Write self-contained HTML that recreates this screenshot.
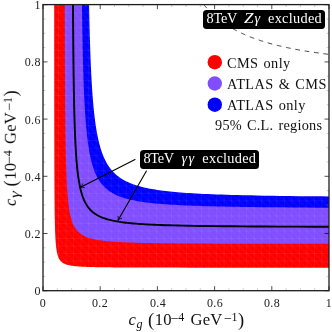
<!DOCTYPE html>
<html><head><meta charset="utf-8"><title>plot</title>
<style>
html,body{margin:0;padding:0;background:#fff;}
body{width:332px;height:332px;overflow:hidden;position:relative;font-family:"Liberation Serif",serif;color:#111;}
svg{position:absolute;left:0;top:0;}
.tl,.lg,.bx,.ax{will-change:transform;}
.tl{position:absolute;font-size:12px;line-height:14px;color:#222;white-space:nowrap;letter-spacing:0.4px;}
.xt{top:295.5px;width:30px;text-align:center;}
.yt{left:0;width:40.9px;text-align:right;}
.lg{position:absolute;left:226.6px;font-size:14.3px;line-height:16px;white-space:nowrap;letter-spacing:0.4px;word-spacing:1.2px;color:#111;}
.bx{position:absolute;background:#000;color:#fff;border-radius:3.5px;font-size:14.3px;line-height:17.4px;height:18.7px;white-space:nowrap;letter-spacing:0.3px;}
.bx span{position:absolute;top:0;}
.bx .a{letter-spacing:-0.3px;}
.bx .g{letter-spacing:1.3px;font-style:italic;}
.ax{position:absolute;left:0;top:0;width:0;height:0;color:#111;}
.ax span{position:absolute;white-space:nowrap;line-height:20px;}
.ax .m{font-size:16.6px;top:-14.6px;letter-spacing:0.15px;}
.ax .it{font-style:italic;}
.ax .s{font-size:12px;top:-18.3px;letter-spacing:0.3px;}
.ax .s.it{top:-11.2px;}
.ax .mn{font-size:14px;top:-16.3px;}
.ax .p{font-size:18.5px;top:-15.4px;}
</style></head><body>
<svg width="332" height="332" viewBox="0 0 332 332">
<defs><pattern id="m" patternUnits="userSpaceOnUse" x="43" y="4.71" width="7.526" height="7.526"><path d="M0,0H7.526M0,0V7.526" stroke="#fff" stroke-opacity="0.18" stroke-width="0.6" fill="none"/><path d="M0,0L7.526,7.526" stroke="#fff" stroke-opacity="0.11" stroke-width="0.6" fill="none"/></pattern><clipPath id="c"><rect x="43.0" y="4.6" width="286.0" height="286.09999999999997"/></clipPath></defs>
<g clip-path="url(#c)">
<path d="M54.20,-1.02 54.20,29.19 54.21,53.71 54.22,74.01 54.24,91.09 54.25,105.66 54.26,118.24 54.28,129.20 54.29,138.84 54.31,147.38 54.32,155.00 54.34,161.85 54.36,168.02 54.38,173.62 54.40,178.72 54.43,183.39 54.45,187.68 54.47,191.63 54.50,195.28 54.53,198.66 54.55,201.81 54.58,204.73 54.61,207.47 54.64,210.03 54.68,212.43 54.71,214.69 54.74,216.81 54.78,218.82 54.82,220.71 54.86,222.50 54.89,224.19 54.94,225.80 54.98,227.32 55.02,228.77 55.07,230.15 55.11,231.47 55.16,232.72 55.21,233.92 55.26,235.07 55.31,236.16 55.36,237.21 55.42,238.22 55.47,239.18 55.53,240.10 55.59,240.99 55.65,241.85 55.71,242.67 55.78,243.46 55.84,244.22 55.91,244.95 55.98,245.65 56.05,246.34 56.13,246.99 56.20,247.63 56.28,248.24 56.36,248.83 56.44,249.40 56.52,249.96 56.61,250.49 56.70,251.01 56.79,251.51 56.88,252.00 56.97,252.47 57.07,252.93 57.17,253.37 57.27,253.80 57.38,254.22 57.49,254.62 57.60,255.01 57.71,255.39 57.83,255.76 57.95,256.12 58.07,256.47 58.20,256.81 58.33,257.14 58.46,257.47 58.60,257.78 58.74,258.08 58.89,258.38 59.04,258.66 59.19,258.94 59.35,259.22 59.51,259.48 59.68,259.74 59.85,259.99 60.03,260.24 60.21,260.48 60.40,260.71 60.59,260.93 60.79,261.15 60.99,261.37 61.20,261.58 61.42,261.78 61.65,261.98 61.88,262.18 62.12,262.36 62.37,262.55 62.62,262.73 62.88,262.90 63.16,263.07 63.44,263.24 63.73,263.40 64.03,263.56 64.34,263.71 64.67,263.86 65.00,264.00 65.35,264.15 65.71,264.28 66.09,264.42 66.48,264.55 66.88,264.68 67.30,264.80 67.74,264.92 68.20,265.04 68.68,265.15 69.17,265.27 69.69,265.37 70.23,265.48 70.80,265.58 71.39,265.68 72.02,265.78 72.67,265.87 73.35,265.96 74.07,266.05 74.83,266.13 75.63,266.22 76.47,266.30 77.36,266.37 78.30,266.45 79.30,266.52 80.36,266.59 81.48,266.66 82.68,266.73 83.96,266.79 85.33,266.85 86.80,266.91 88.37,266.96 90.07,267.02 91.90,267.07 93.89,267.12 96.05,267.17 98.40,267.21 100.98,267.25 103.82,267.30 106.96,267.33 110.44,267.37 114.33,267.41 118.70,267.44 123.65,267.47 129.30,267.50 135.81,267.53 143.39,267.55 152.33,267.57 163.02,267.59 176.06,267.61 192.27,267.63 213.01,267.64 240.46,267.66 278.50,267.67 334.72,267.68 L334.7,-1.0Z" fill="#ff0000"/>
<path d="M64.74,-1.02 64.77,13.35 64.81,26.35 64.84,38.17 64.87,48.96 64.91,58.85 64.95,67.95 64.99,76.34 65.03,84.11 65.08,91.33 65.12,98.04 65.17,104.31 65.22,110.17 65.27,115.65 65.32,120.81 65.38,125.65 65.43,130.22 65.49,134.53 65.55,138.61 65.61,142.46 65.68,146.12 65.74,149.59 65.81,152.89 65.88,156.03 65.95,159.02 66.03,161.87 66.10,164.59 66.18,167.19 66.26,169.68 66.35,172.06 66.43,174.34 66.52,176.52 66.61,178.62 66.70,180.64 66.80,182.57 66.89,184.43 66.99,186.23 67.09,187.95 67.20,189.61 67.31,191.21 67.42,192.76 67.53,194.25 67.64,195.69 67.76,197.08 67.88,198.43 68.01,199.73 68.14,200.98 68.27,202.20 68.40,203.38 68.54,204.52 68.68,205.63 68.82,206.70 68.97,207.74 69.12,208.75 69.27,209.73 69.43,210.68 69.59,211.60 69.76,212.50 69.92,213.37 70.10,214.21 70.28,215.03 70.46,215.83 70.64,216.61 70.83,217.37 71.03,218.10 71.23,218.82 71.44,219.52 71.65,220.20 71.86,220.86 72.08,221.50 72.31,222.13 72.54,222.74 72.78,223.34 73.02,223.92 73.27,224.49 73.53,225.04 73.79,225.58 74.06,226.11 74.34,226.62 74.62,227.12 74.91,227.61 75.21,228.08 75.52,228.55 75.83,229.00 76.16,229.44 76.49,229.87 76.83,230.30 77.18,230.71 77.54,231.11 77.92,231.50 78.30,231.89 78.69,232.26 79.10,232.62 79.51,232.98 79.94,233.33 80.38,233.67 80.84,234.00 81.31,234.33 81.79,234.64 82.29,234.95 82.80,235.25 83.33,235.55 83.88,235.84 84.45,236.12 85.03,236.39 85.64,236.66 86.26,236.92 86.91,237.18 87.58,237.43 88.27,237.67 88.99,237.91 89.74,238.14 90.51,238.36 91.32,238.58 92.15,238.80 93.02,239.01 93.92,239.21 94.86,239.41 95.84,239.60 96.86,239.79 97.93,239.97 99.04,240.15 100.20,240.33 101.42,240.50 102.69,240.66 104.02,240.82 105.42,240.97 106.89,241.13 108.43,241.27 110.06,241.41 111.77,241.55 113.58,241.69 115.49,241.81 117.51,241.94 119.66,242.06 121.94,242.18 124.36,242.29 126.94,242.40 129.70,242.51 132.65,242.61 135.82,242.71 139.23,242.80 142.90,242.89 146.87,242.98 151.18,243.06 155.88,243.14 161.00,243.21 166.62,243.29 172.82,243.35 179.67,243.42 187.31,243.48 195.85,243.54 205.49,243.59 216.43,243.64 228.97,243.69 243.48,243.74 260.47,243.78 280.61,243.81 304.89,243.85 334.72,243.88 L334.7,-1.0Z" fill="#804dff"/>
<path d="M81.91,-1.02 81.99,6.01 82.08,12.70 82.17,19.07 82.26,25.14 82.35,30.93 82.45,36.46 82.55,41.74 82.65,46.80 82.76,51.64 82.86,56.29 82.97,60.74 83.09,65.02 83.20,69.13 83.32,73.08 83.44,76.88 83.57,80.54 83.69,84.06 83.82,87.46 83.96,90.74 84.09,93.91 84.23,96.96 84.37,99.91 84.52,102.77 84.67,105.53 84.82,108.20 84.98,110.78 85.13,113.29 85.30,115.71 85.46,118.06 85.63,120.34 85.80,122.56 85.98,124.70 86.16,126.79 86.35,128.81 86.53,130.78 86.73,132.69 86.92,134.54 87.12,136.35 87.33,138.11 87.54,139.82 87.75,141.48 87.97,143.10 88.19,144.68 88.41,146.21 88.65,147.71 88.88,149.17 89.12,150.59 89.37,151.98 89.62,153.33 89.88,154.65 90.14,155.93 90.40,157.19 90.68,158.42 90.96,159.61 91.24,160.78 91.53,161.92 91.83,163.03 92.13,164.12 92.44,165.19 92.75,166.23 93.08,167.24 93.41,168.23 93.74,169.20 94.09,170.15 94.44,171.08 94.80,171.99 95.16,172.88 95.54,173.74 95.92,174.59 96.31,175.43 96.71,176.24 97.12,177.03 97.54,177.81 97.96,178.58 98.40,179.32 98.85,180.05 99.30,180.77 99.77,181.47 100.25,182.16 100.74,182.83 101.24,183.49 101.76,184.13 102.28,184.76 102.82,185.38 103.37,185.98 103.94,186.58 104.52,187.16 105.11,187.73 105.72,188.28 106.34,188.83 106.98,189.37 107.64,189.89 108.31,190.40 109.00,190.91 109.71,191.40 110.44,191.88 111.19,192.35 111.96,192.82 112.75,193.27 113.56,193.71 114.39,194.15 115.25,194.58 116.14,194.99 117.04,195.40 117.98,195.80 118.95,196.19 119.94,196.58 120.96,196.95 122.02,197.32 123.11,197.68 124.23,198.04 125.39,198.38 126.59,198.72 127.83,199.05 129.11,199.37 130.44,199.69 131.81,200.00 133.22,200.30 134.70,200.59 136.22,200.88 137.80,201.16 139.44,201.44 141.14,201.71 142.91,201.97 144.75,202.23 146.67,202.48 148.66,202.72 150.74,202.96 152.91,203.20 155.17,203.42 157.53,203.64 160.01,203.86 162.59,204.07 165.30,204.27 168.15,204.47 171.13,204.67 174.27,204.85 177.58,205.04 181.06,205.21 184.73,205.39 188.62,205.55 192.73,205.71 197.08,205.87 201.71,206.02 206.63,206.17 211.88,206.31 217.49,206.45 223.49,206.58 229.92,206.71 236.85,206.83 244.31,206.94 252.39,207.06 261.16,207.17 270.70,207.27 281.13,207.37 292.57,207.46 305.19,207.55 319.16,207.63 334.72,207.71 L334.7,-1.0Z" fill="#0000ff"/>
<path d="M54.20,-1.02 54.20,29.19 54.21,53.71 54.22,74.01 54.24,91.09 54.25,105.66 54.26,118.24 54.28,129.20 54.29,138.84 54.31,147.38 54.32,155.00 54.34,161.85 54.36,168.02 54.38,173.62 54.40,178.72 54.43,183.39 54.45,187.68 54.47,191.63 54.50,195.28 54.53,198.66 54.55,201.81 54.58,204.73 54.61,207.47 54.64,210.03 54.68,212.43 54.71,214.69 54.74,216.81 54.78,218.82 54.82,220.71 54.86,222.50 54.89,224.19 54.94,225.80 54.98,227.32 55.02,228.77 55.07,230.15 55.11,231.47 55.16,232.72 55.21,233.92 55.26,235.07 55.31,236.16 55.36,237.21 55.42,238.22 55.47,239.18 55.53,240.10 55.59,240.99 55.65,241.85 55.71,242.67 55.78,243.46 55.84,244.22 55.91,244.95 55.98,245.65 56.05,246.34 56.13,246.99 56.20,247.63 56.28,248.24 56.36,248.83 56.44,249.40 56.52,249.96 56.61,250.49 56.70,251.01 56.79,251.51 56.88,252.00 56.97,252.47 57.07,252.93 57.17,253.37 57.27,253.80 57.38,254.22 57.49,254.62 57.60,255.01 57.71,255.39 57.83,255.76 57.95,256.12 58.07,256.47 58.20,256.81 58.33,257.14 58.46,257.47 58.60,257.78 58.74,258.08 58.89,258.38 59.04,258.66 59.19,258.94 59.35,259.22 59.51,259.48 59.68,259.74 59.85,259.99 60.03,260.24 60.21,260.48 60.40,260.71 60.59,260.93 60.79,261.15 60.99,261.37 61.20,261.58 61.42,261.78 61.65,261.98 61.88,262.18 62.12,262.36 62.37,262.55 62.62,262.73 62.88,262.90 63.16,263.07 63.44,263.24 63.73,263.40 64.03,263.56 64.34,263.71 64.67,263.86 65.00,264.00 65.35,264.15 65.71,264.28 66.09,264.42 66.48,264.55 66.88,264.68 67.30,264.80 67.74,264.92 68.20,265.04 68.68,265.15 69.17,265.27 69.69,265.37 70.23,265.48 70.80,265.58 71.39,265.68 72.02,265.78 72.67,265.87 73.35,265.96 74.07,266.05 74.83,266.13 75.63,266.22 76.47,266.30 77.36,266.37 78.30,266.45 79.30,266.52 80.36,266.59 81.48,266.66 82.68,266.73 83.96,266.79 85.33,266.85 86.80,266.91 88.37,266.96 90.07,267.02 91.90,267.07 93.89,267.12 96.05,267.17 98.40,267.21 100.98,267.25 103.82,267.30 106.96,267.33 110.44,267.37 114.33,267.41 118.70,267.44 123.65,267.47 129.30,267.50 135.81,267.53 143.39,267.55 152.33,267.57 163.02,267.59 176.06,267.61 192.27,267.63 213.01,267.64 240.46,267.66 278.50,267.67 334.72,267.68 L334.7,-1.0Z" fill="url(#m)"/>
<path d="M88.96,-1.02 89.07,4.82 89.18,10.41 89.29,15.78 89.41,20.93 89.53,25.88 89.65,30.64 89.77,35.23 89.90,39.64 90.03,43.88 90.17,47.98 90.30,51.93 90.44,55.75 90.59,59.43 90.73,62.99 90.88,66.43 91.03,69.76 91.19,72.98 91.35,76.09 91.51,79.11 91.68,82.04 91.84,84.88 92.02,87.63 92.19,90.30 92.37,92.89 92.56,95.40 92.74,97.85 92.94,100.22 93.13,102.53 93.33,104.77 93.53,106.95 93.74,109.07 93.95,111.14 94.17,113.15 94.39,115.11 94.61,117.02 94.84,118.87 95.07,120.69 95.31,122.45 95.55,124.17 95.80,125.85 96.05,127.49 96.31,129.08 96.57,130.64 96.84,132.17 97.11,133.65 97.38,135.10 97.67,136.52 97.96,137.90 98.25,139.26 98.55,140.58 98.86,141.87 99.17,143.13 99.49,144.37 99.81,145.57 100.14,146.75 100.48,147.91 100.83,149.04 101.18,150.14 101.54,151.23 101.90,152.29 102.28,153.32 102.66,154.34 103.05,155.33 103.44,156.30 103.85,157.25 104.26,158.19 104.68,159.10 105.11,160.00 105.55,160.87 106.00,161.73 106.46,162.57 106.93,163.40 107.41,164.21 107.90,165.00 108.40,165.77 108.91,166.54 109.43,167.28 109.96,168.01 110.51,168.73 111.06,169.43 111.63,170.12 112.22,170.80 112.81,171.46 113.42,172.11 114.05,172.75 114.69,173.37 115.34,173.98 116.01,174.58 116.69,175.17 117.39,175.75 118.11,176.32 118.85,176.87 119.60,177.42 120.38,177.95 121.17,178.47 121.98,178.99 122.82,179.49 123.67,179.99 124.55,180.47 125.45,180.95 126.38,181.41 127.33,181.87 128.31,182.32 129.31,182.76 130.34,183.19 131.40,183.61 132.50,184.02 133.62,184.43 134.78,184.83 135.97,185.21 137.19,185.60 138.46,185.97 139.76,186.34 141.10,186.70 142.49,187.05 143.92,187.39 145.40,187.73 146.93,188.06 148.50,188.38 150.13,188.70 151.82,189.01 153.57,189.31 155.38,189.61 157.26,189.89 159.20,190.18 161.22,190.45 163.32,190.73 165.49,190.99 167.76,191.25 170.11,191.50 172.56,191.75 175.12,191.99 177.78,192.22 180.56,192.45 183.46,192.67 186.50,192.89 189.67,193.10 193.00,193.31 196.49,193.51 200.16,193.71 204.01,193.90 208.06,194.08 212.33,194.26 216.84,194.44 221.60,194.60 226.63,194.77 231.97,194.93 237.64,195.08 243.67,195.23 250.10,195.37 256.96,195.51 264.30,195.65 272.17,195.78 280.64,195.90 289.76,196.02 299.63,196.13 310.34,196.24 321.99,196.35 334.72,196.45 L334.7,-1.0Z" fill="#ffffff"/>
<path d="M72.97,-1.02 73.03,8.89 73.08,18.13 73.14,26.77 73.20,34.87 73.26,42.47 73.32,49.61 73.39,56.34 73.46,62.69 73.53,68.70 73.60,74.38 73.68,79.76 73.76,84.88 73.84,89.73 73.92,94.35 74.00,98.76 74.09,102.95 74.18,106.96 74.27,110.79 74.36,114.45 74.46,117.96 74.56,121.32 74.66,124.54 74.77,127.63 74.87,130.59 74.98,133.44 75.10,136.19 75.21,138.83 75.33,141.37 75.45,143.82 75.58,146.18 75.70,148.46 75.83,150.66 75.97,152.78 76.10,154.83 76.24,156.81 76.38,158.73 76.53,160.59 76.68,162.38 76.83,164.12 76.99,165.81 77.15,167.44 77.31,169.03 77.48,170.57 77.65,172.06 77.83,173.50 78.01,174.91 78.19,176.27 78.38,177.60 78.57,178.89 78.76,180.14 78.96,181.36 79.17,182.55 79.38,183.70 79.59,184.83 79.81,185.92 80.03,186.98 80.26,188.02 80.50,189.03 80.74,190.01 80.98,190.97 81.23,191.91 81.49,192.82 81.75,193.71 82.02,194.58 82.29,195.42 82.57,196.25 82.86,197.05 83.15,197.84 83.45,198.61 83.76,199.36 84.07,200.09 84.40,200.80 84.73,201.50 85.06,202.18 85.41,202.85 85.76,203.50 86.13,204.13 86.50,204.75 86.88,205.36 87.27,205.96 87.67,206.54 88.08,207.10 88.50,207.66 88.93,208.20 89.38,208.73 89.83,209.25 90.30,209.75 90.78,210.25 91.27,210.73 91.77,211.21 92.29,211.67 92.83,212.12 93.37,212.57 93.94,213.00 94.52,213.42 95.11,213.84 95.73,214.24 96.36,214.64 97.01,215.03 97.68,215.41 98.37,215.78 99.08,216.14 99.81,216.50 100.56,216.84 101.34,217.18 102.15,217.51 102.98,217.84 103.84,218.15 104.73,218.46 105.64,218.76 106.59,219.06 107.57,219.35 108.59,219.63 109.65,219.90 110.74,220.17 111.87,220.44 113.05,220.69 114.27,220.94 115.54,221.19 116.86,221.42 118.24,221.66 119.67,221.88 121.16,222.10 122.71,222.32 124.34,222.53 126.04,222.73 127.81,222.93 129.67,223.12 131.62,223.31 133.66,223.49 135.80,223.67 138.06,223.84 140.43,224.01 142.93,224.17 145.57,224.33 148.35,224.48 151.31,224.63 154.43,224.78 157.75,224.91 161.29,225.05 165.05,225.18 169.07,225.30 173.38,225.42 177.99,225.54 182.96,225.65 188.31,225.76 194.10,225.86 200.37,225.96 207.21,226.05 214.67,226.14 222.86,226.23 231.87,226.31 241.86,226.39 252.97,226.46 265.41,226.53 279.43,226.60 295.36,226.66 313.61,226.71 334.72,226.77" fill="none" stroke="#000" stroke-width="1.9"/>
<path d="M199.47,-1.02 199.87,-0.46 200.28,0.10 200.69,0.65 201.10,1.20 201.52,1.75 201.94,2.29 202.36,2.83 202.79,3.36 203.22,3.90 203.65,4.42 204.08,4.95 204.52,5.47 204.96,5.99 205.41,6.51 205.86,7.02 206.31,7.53 206.76,8.03 207.22,8.54 207.68,9.03 208.14,9.53 208.61,10.02 209.08,10.51 209.56,11.00 210.04,11.48 210.52,11.97 211.01,12.44 211.50,12.92 211.99,13.39 212.49,13.86 212.99,14.32 213.49,14.79 214.00,15.25 214.51,15.70 215.03,16.16 215.55,16.61 216.07,17.06 216.60,17.50 217.13,17.95 217.67,18.39 218.21,18.82 218.76,19.26 219.31,19.69 219.86,20.12 220.42,20.55 220.98,20.97 221.55,21.39 222.12,21.81 222.69,22.23 223.27,22.64 223.86,23.05 224.45,23.46 225.04,23.86 225.64,24.27 226.25,24.67 226.86,25.06 227.47,25.46 228.09,25.85 228.72,26.24 229.35,26.63 229.98,27.02 230.62,27.40 231.27,27.78 231.92,28.16 232.57,28.53 233.23,28.91 233.90,29.28 234.58,29.65 235.25,30.01 235.94,30.38 236.63,30.74 237.33,31.10 238.03,31.46 238.74,31.81 239.45,32.16 240.17,32.51 240.90,32.86 241.63,33.21 242.37,33.55 243.12,33.89 243.87,34.23 244.63,34.57 245.40,34.91 246.17,35.24 246.95,35.57 247.74,35.90 248.53,36.22 249.34,36.55 250.15,36.87 250.96,37.19 251.79,37.51 252.62,37.83 253.46,38.14 254.30,38.45 255.16,38.76 256.02,39.07 256.89,39.38 257.77,39.68 258.66,39.98 259.56,40.28 260.46,40.58 261.37,40.88 262.30,41.17 263.23,41.47 264.17,41.76 265.12,42.04 266.08,42.33 267.04,42.62 268.02,42.90 269.01,43.18 270.01,43.46 271.01,43.74 272.03,44.01 273.06,44.29 274.10,44.56 275.14,44.83 276.20,45.10 277.27,45.36 278.35,45.63 279.45,45.89 280.55,46.15 281.67,46.41 282.79,46.67 283.93,46.92 285.08,47.18 286.25,47.43 287.42,47.68 288.61,47.93 289.81,48.18 291.02,48.42 292.25,48.66 293.49,48.91 294.75,49.15 296.02,49.39 297.30,49.62 298.60,49.86 299.91,50.09 301.23,50.32 302.57,50.55 303.93,50.78 305.30,51.01 306.69,51.24 308.10,51.46 309.52,51.68 310.95,51.90 312.41,52.12 313.88,52.34 315.37,52.56 316.87,52.77 318.40,52.98 319.94,53.19 321.51,53.40 323.09,53.61 324.69,53.82 326.31,54.02 327.95,54.23 329.61,54.43 331.29,54.63 332.99,54.83 334.72,55.03" fill="none" stroke="#111" stroke-width="0.8" stroke-dasharray="4.7,4.76" stroke-dashoffset="2.4"/>
</g>
<path d="M43.00,290.7v-4.5M43.00,4.6v4.5M43.0,290.70h4.5M329.0,290.70h-4.5" stroke="#000" stroke-width="0.7"/>
<path d="M57.30,290.7v-2.4M57.30,4.6v2.4M43.0,276.40h2.4M329.0,276.40h-2.4" stroke="#888" stroke-width="0.45"/>
<path d="M71.60,290.7v-2.4M71.60,4.6v2.4M43.0,262.10h2.4M329.0,262.10h-2.4" stroke="#888" stroke-width="0.45"/>
<path d="M85.90,290.7v-2.4M85.90,4.6v2.4M43.0,247.80h2.4M329.0,247.80h-2.4" stroke="#888" stroke-width="0.45"/>
<path d="M100.20,290.7v-4.5M100.20,4.6v4.5M43.0,233.50h4.5M329.0,233.50h-4.5" stroke="#000" stroke-width="0.7"/>
<path d="M114.50,290.7v-2.4M114.50,4.6v2.4M43.0,219.20h2.4M329.0,219.20h-2.4" stroke="#888" stroke-width="0.45"/>
<path d="M128.80,290.7v-2.4M128.80,4.6v2.4M43.0,204.90h2.4M329.0,204.90h-2.4" stroke="#888" stroke-width="0.45"/>
<path d="M143.10,290.7v-2.4M143.10,4.6v2.4M43.0,190.60h2.4M329.0,190.60h-2.4" stroke="#888" stroke-width="0.45"/>
<path d="M157.40,290.7v-4.5M157.40,4.6v4.5M43.0,176.30h4.5M329.0,176.30h-4.5" stroke="#000" stroke-width="0.7"/>
<path d="M171.70,290.7v-2.4M171.70,4.6v2.4M43.0,162.00h2.4M329.0,162.00h-2.4" stroke="#888" stroke-width="0.45"/>
<path d="M186.00,290.7v-2.4M186.00,4.6v2.4M43.0,147.70h2.4M329.0,147.70h-2.4" stroke="#888" stroke-width="0.45"/>
<path d="M200.30,290.7v-2.4M200.30,4.6v2.4M43.0,133.40h2.4M329.0,133.40h-2.4" stroke="#888" stroke-width="0.45"/>
<path d="M214.60,290.7v-4.5M214.60,4.6v4.5M43.0,119.10h4.5M329.0,119.10h-4.5" stroke="#000" stroke-width="0.7"/>
<path d="M228.90,290.7v-2.4M228.90,4.6v2.4M43.0,104.80h2.4M329.0,104.80h-2.4" stroke="#888" stroke-width="0.45"/>
<path d="M243.20,290.7v-2.4M243.20,4.6v2.4M43.0,90.50h2.4M329.0,90.50h-2.4" stroke="#888" stroke-width="0.45"/>
<path d="M257.50,290.7v-2.4M257.50,4.6v2.4M43.0,76.20h2.4M329.0,76.20h-2.4" stroke="#888" stroke-width="0.45"/>
<path d="M271.80,290.7v-4.5M271.80,4.6v4.5M43.0,61.90h4.5M329.0,61.90h-4.5" stroke="#000" stroke-width="0.7"/>
<path d="M286.10,290.7v-2.4M286.10,4.6v2.4M43.0,47.60h2.4M329.0,47.60h-2.4" stroke="#888" stroke-width="0.45"/>
<path d="M300.40,290.7v-2.4M300.40,4.6v2.4M43.0,33.30h2.4M329.0,33.30h-2.4" stroke="#888" stroke-width="0.45"/>
<path d="M314.70,290.7v-2.4M314.70,4.6v2.4M43.0,19.00h2.4M329.0,19.00h-2.4" stroke="#888" stroke-width="0.45"/>
<path d="M329.00,290.7v-4.5M329.00,4.6v4.5M43.0,4.70h4.5M329.0,4.70h-4.5" stroke="#000" stroke-width="0.7"/>
<rect x="43.0" y="4.6" width="286.0" height="286.09999999999997" fill="none" stroke="#1c1c1c" stroke-width="1.3"/>
<circle cx="214.8" cy="62.2" r="7.2" fill="#ff0000"/>
<circle cx="214.8" cy="83.5" r="7.2" fill="#804dff"/>
<circle cx="214.8" cy="104.7" r="7.2" fill="#0000ff"/>
<g stroke="#000" stroke-width="1.1" fill="none" stroke-linecap="round">
<path d="M135,159.5L80.6,187.3"/><path d="M80.60,187.30Q81.87,186.26 82.58,183.93" stroke-width="0.8"/><path d="M80.60,187.30Q82.18,186.88 84.49,187.67" stroke-width="0.8"/>
<path d="M146.4,171.1L118.2,220.1"/><path d="M118.20,220.10Q118.69,218.54 118.03,216.19" stroke-width="0.8"/><path d="M118.20,220.10Q119.30,218.89 121.67,218.29" stroke-width="0.8"/>
</g>
</svg>
<div class="tl xt" style="left:28.1px">0</div><div class="tl xt" style="left:85.3px">0.2</div><div class="tl xt" style="left:142.5px">0.4</div><div class="tl xt" style="left:199.7px">0.6</div><div class="tl xt" style="left:256.9px">0.8</div><div class="tl xt" style="left:314.1px">1</div><div class="tl yt" style="top:284.1px">0</div><div class="tl yt" style="top:226.9px">0.2</div><div class="tl yt" style="top:169.7px">0.4</div><div class="tl yt" style="top:112.5px">0.6</div><div class="tl yt" style="top:55.3px">0.8</div><div class="tl yt" style="top:-1.9px">1</div>
<div class="lg" style="top:54.6px">CMS only</div>
<div class="lg" style="top:75.8px">ATLAS &amp; CMS</div>
<div class="lg" style="top:97px">ATLAS only</div>
<div class="lg" style="top:116.7px;left:214.7px;letter-spacing:0.25px">95% C.L. regions</div>
<div class="bx" style="left:203px;top:9.6px;width:122.2px"><span class="a" style="left:3.6px">8TeV</span><span class="g" style="left:41.3px;transform:scaleX(1.2);transform-origin:0 50%">Z</span><span class="g" style="left:51.6px">&gamma;</span><span style="left:65px">excluded</span></div>
<div class="bx" style="left:140.4px;top:149.8px;width:119.4px"><span class="a" style="left:3.4px">8TeV</span><span class="g" style="left:41.5px">&gamma;&gamma;</span><span style="left:62.3px">excluded</span></div>
<div class="ax" id="xlab" style="transform:translate(128.5px,324.7px)"><span class="m it" style="left:0.0px">c</span><span class="s it" style="left:8.0px">g</span><span class="p" style="left:19.6px">(</span><span class="m" style="left:26.3px">10</span><span class="mn" style="left:42.2px">&minus;</span><span class="s" style="left:49.7px">4</span><span class="m" style="left:62.0px">GeV</span><span class="mn" style="left:95.4px">&minus;</span><span class="s" style="left:103.0px">1</span><span class="p" style="left:109.4px">)</span></div>
<div class="ax" id="ylab" style="transform:translate(15.8px,206px) rotate(-90deg)"><span class="m it" style="left:0.0px">c</span><span class="s it" style="left:8.0px;transform:scaleX(1.45);transform-origin:0 50%">&gamma;</span><span class="p" style="left:19.6px">(</span><span class="m" style="left:26.3px">10</span><span class="mn" style="left:42.2px">&minus;</span><span class="s" style="left:49.7px">4</span><span class="m" style="left:62.0px">GeV</span><span class="mn" style="left:95.4px">&minus;</span><span class="s" style="left:103.0px">1</span><span class="p" style="left:109.4px">)</span></div>
</body></html>
